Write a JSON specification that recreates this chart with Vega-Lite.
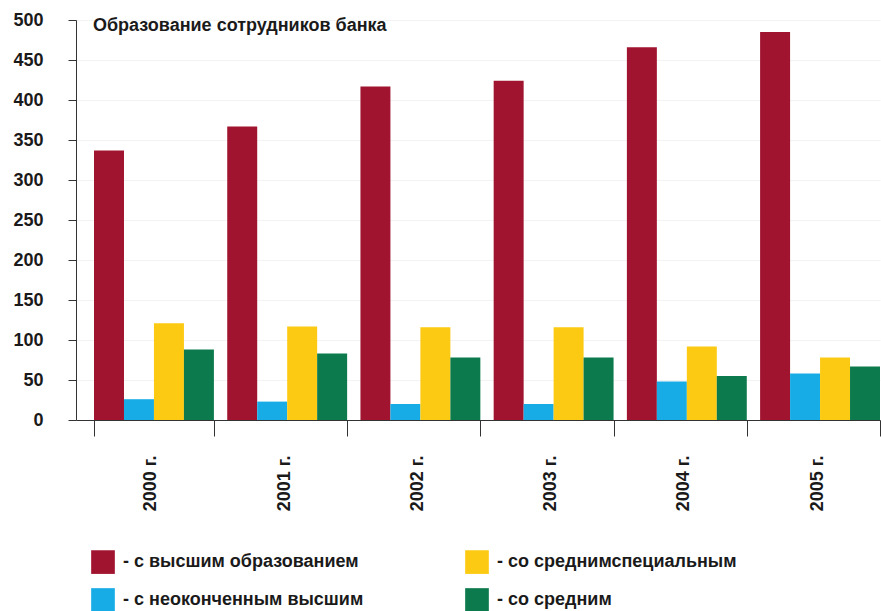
{
  "$schema": "https://vega.github.io/schema/vega-lite/v6.json",
  "width": 804,
  "height": 400,
  "autosize": {"type": "none"},
  "padding": {"left": 76, "top": 20, "right": 1, "bottom": 191},
  "background": "white",
  "title": {
    "text": "Образование сотрудников банка",
    "anchor": "start",
    "frame": "group",
    "dx": 17,
    "dy": 28,
    "fontSize": 18,
    "font": "Liberation Sans",
    "fontWeight": "bold",
    "color": "#1a1a1a"
  },
  "data": {
    "values": [
      {"year": "2000 г.", "cat": "с высшим образованием", "value": 337},
      {"year": "2000 г.", "cat": "с неоконченным высшим", "value": 26},
      {"year": "2000 г.", "cat": "со среднимспециальным", "value": 121},
      {"year": "2000 г.", "cat": "со средним", "value": 88},
      {"year": "2001 г.", "cat": "с высшим образованием", "value": 367},
      {"year": "2001 г.", "cat": "с неоконченным высшим", "value": 23},
      {"year": "2001 г.", "cat": "со среднимспециальным", "value": 117},
      {"year": "2001 г.", "cat": "со средним", "value": 83},
      {"year": "2002 г.", "cat": "с высшим образованием", "value": 417},
      {"year": "2002 г.", "cat": "с неоконченным высшим", "value": 20},
      {"year": "2002 г.", "cat": "со среднимспециальным", "value": 116},
      {"year": "2002 г.", "cat": "со средним", "value": 78},
      {"year": "2003 г.", "cat": "с высшим образованием", "value": 424},
      {"year": "2003 г.", "cat": "с неоконченным высшим", "value": 20},
      {"year": "2003 г.", "cat": "со среднимспециальным", "value": 116},
      {"year": "2003 г.", "cat": "со средним", "value": 78},
      {"year": "2004 г.", "cat": "с высшим образованием", "value": 466},
      {"year": "2004 г.", "cat": "с неоконченным высшим", "value": 48},
      {"year": "2004 г.", "cat": "со среднимспециальным", "value": 92},
      {"year": "2004 г.", "cat": "со средним", "value": 55},
      {"year": "2005 г.", "cat": "с высшим образованием", "value": 485},
      {"year": "2005 г.", "cat": "с неоконченным высшим", "value": 58},
      {"year": "2005 г.", "cat": "со среднимспециальным", "value": 78},
      {"year": "2005 г.", "cat": "со средним", "value": 67}
    ]
  },
  "mark": {"type": "bar"},
  "encoding": {
    "x": {
      "field": "year",
      "type": "nominal",
      "sort": null,
      "scale": {"paddingInner": 0.1, "paddingOuter": 0.0676, "align": 1},
      "axis": {
        "title": null,
        "labelAngle": -90,
        "labelFont": "Liberation Sans",
        "labelFontWeight": "bold",
        "labelFontSize": 18,
        "labelColor": "#1a1a1a",
        "labelOffset": -3,
        "tickBand": "extent",
        "tickSize": 16,
        "tickColor": "#333",
        "domainColor": "#333",
        "labelPadding": 19
      }
    },
    "xOffset": {
      "field": "cat",
      "type": "nominal",
      "scale": {
        "domain": ["с высшим образованием", "с неоконченным высшим", "со среднимспециальным", "со средним"],
        "paddingInner": 0,
        "paddingOuter": 0
      }
    },
    "y": {
      "field": "value",
      "type": "quantitative",
      "scale": {"domain": [0, 500], "nice": false},
      "axis": {
        "title": null,
        "values": [0, 50, 100, 150, 200, 250, 300, 350, 400, 450, 500],
        "labelFont": "Liberation Sans",
        "labelFontWeight": "bold",
        "labelFontSize": 18,
        "labelColor": "#1a1a1a",
        "tickSize": 8,
        "tickColor": "#333",
        "domainColor": "#333",
        "labelPadding": 25,
        "grid": true,
        "gridColor": "#f3f3f3"
      }
    },
    "color": {
      "field": "cat",
      "type": "nominal",
      "scale": {
        "domain": ["с высшим образованием", "со среднимспециальным", "с неоконченным высшим", "со средним"],
        "range": ["#a0142f", "#fcca12", "#18ace6", "#0c7a4c"]
      },
      "legend": {
        "title": null,
        "orient": "bottom",
        "direction": "horizontal",
        "columns": 2,
        "symbolType": "square",
        "symbolSize": 560,
        "symbolStrokeWidth": 0,
        "symbolOpacity": 1,
        "labelExpr": "'- ' + datum.label",
        "labelFont": "Liberation Sans",
        "labelFontWeight": "bold",
        "labelFontSize": 18,
        "labelColor": "#1a1a1a",
        "labelLimit": 400,
        "labelOffset": 8,
        "columnPadding": 101,
        "rowPadding": 14,
        "padding": 15,
        "offset": 24
      }
    }
  },
  "config": {"view": {"stroke": null}}
}
